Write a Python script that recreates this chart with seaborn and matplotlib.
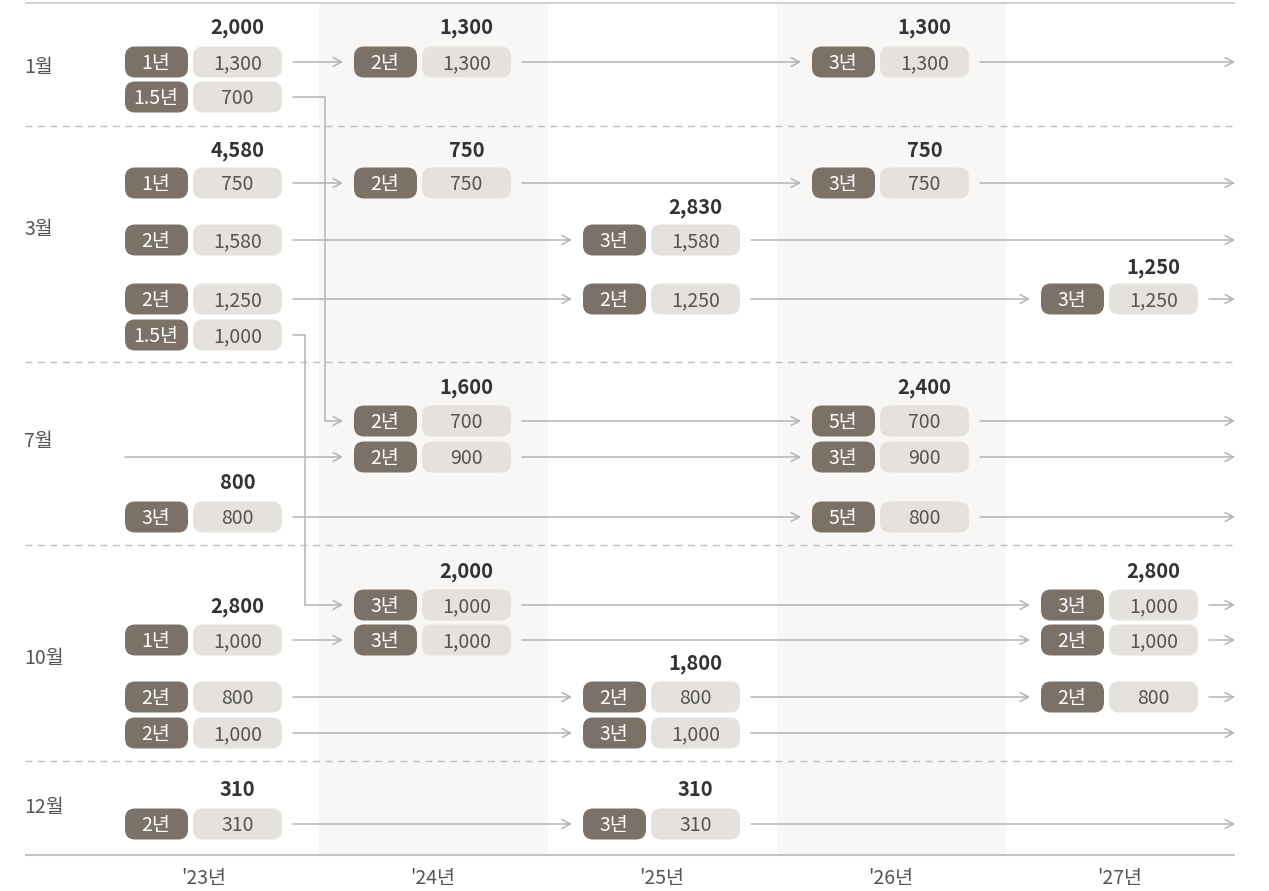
import seaborn as sns
import matplotlib.pyplot as plt
from matplotlib.patches import FancyBboxPatch

sns.set_theme(style="white")
plt.rcParams['font.family'] = ['Noto Sans CJK KR', 'DejaVu Sans']

# ---- data ----
years = ["'23년", "'24년", "'25년", "'26년", "'27년"]
months = ["1월", "3월", "7월", "10월", "12월"]

# each pill: row slot, year column, term, amount
pill_row = [0, 0, 0, 1, 2, 2, 2, 3, 3, 4, 4, 4, 5, 6, 6, 7, 7, 8, 8,
            9, 9, 10, 10, 10, 11, 11, 11, 12, 12, 13, 13]
pill_year = [0, 1, 3, 0, 0, 1, 3, 0, 2, 0, 2, 4, 0, 1, 3, 1, 3, 0, 3,
             1, 4, 0, 1, 4, 0, 2, 4, 0, 2, 0, 2]
pill_term = ["1년", "2년", "3년", "1.5년", "1년", "2년", "3년", "2년", "3년",
             "2년", "2년", "3년", "1.5년", "2년", "5년", "2년", "3년", "3년", "5년",
             "3년", "3년", "1년", "3년", "2년", "2년", "2년", "2년", "2년", "3년",
             "2년", "3년"]
pill_amt = [1300, 1300, 1300, 700, 750, 750, 750, 1580, 1580, 1250, 1250, 1250,
            1000, 700, 700, 900, 900, 800, 800, 1000, 1000, 1000, 1000, 1000,
            800, 800, 800, 1000, 1000, 310, 310]

# group totals shown above the pills
total_year = [0, 1, 3, 0, 1, 3, 2, 4, 1, 3, 0, 1, 4, 0, 2, 0, 2]
total_slot = [0, 0, 0, 1, 1, 1, 2, 3, 4, 4, 5, 6, 6, 7, 8, 9, 9]
total_val = [2000, 1300, 1300, 4580, 750, 750, 2830, 1250, 1600, 2400, 800,
             2000, 2800, 2800, 1800, 310, 310]

# rolled-over rows (1.5년 maturities) that feed a later month
elbow_from = [1, 5]
elbow_to = [6, 9]
lead_rows = [7]  # row that enters without a starting pill

# ---- layout (pixel-like vertical units) ----
W, H = 1269, 891
COL = 229.0
X0 = 204.0
row_y = [62, 97, 183, 240, 299, 335, 421, 457, 517, 605, 640, 697, 733, 824]
total_y = [26, 149, 206, 266, 386, 481, 570, 605, 662, 788]
month_y = [66, 228, 440, 657, 806]
sep_y = [126, 362, 545, 761]
elbow_x = [325, 305]

DARK = '#7b7167'
LIGHT = '#e5e1dc'
BAND = '#f8f7f5'
LINE = '#b4b4b4'
DY = 1.5  # nudge text down to optical centre


def px(n):
    return n / COL


fig = plt.figure(figsize=(W / 100, H / 100), dpi=100)
ax = fig.add_axes([0, 0, 1, 1])
ax.set_xlim(-X0 / COL, (W - X0) / COL)
ax.set_ylim(H, 0)
ax.axis('off')
sns.despine(ax=ax, left=True, bottom=True)

XL, XR = px(25 - X0), px(1235 - X0)

# shaded year bands
for i in (1, 3):
    ax.fill_between([i - 0.5, i + 0.5], 3, 855, color=BAND, lw=0, zorder=0)

ax.hlines([3], XL, XR, color='#c8c8c8', lw=1.2)
ax.hlines([855], XL, XR, color='#c4c4c4', lw=1.5)
ax.hlines(sep_y, XL, XR, color='#bdbdbd', lw=1, linestyles=(0, (5, 4)))

for m, y in zip(months, month_y):
    ax.text(px(24 - X0), y + DY, m, ha='left', va='center', fontsize=14, color='#555555')
for i, yl in enumerate(years):
    ax.text(i, 877 + DY, yl, ha='center', va='center', fontsize=14, color='#555555')


def arrow(x0, x1, y):
    ax.annotate("", xy=(x1, y), xytext=(x0, y),
                arrowprops=dict(arrowstyle="->,head_length=0.6,head_width=0.32",
                                color=LINE, lw=1.1, shrinkA=0, shrinkB=0,
                                mutation_scale=10), zorder=1)


# pills
rs = px(10)
for r, yr, t, a in zip(pill_row, pill_year, pill_term, pill_amt):
    y = row_y[r]
    ax.add_patch(FancyBboxPatch((yr - px(79), y - 15.5), px(63), 31,
                                boxstyle=f"round,pad=0,rounding_size={rs}",
                                mutation_aspect=COL, fc=DARK, ec='none', zorder=2))
    ax.add_patch(FancyBboxPatch((yr - px(11), y - 15.5), px(89), 31,
                                boxstyle=f"round,pad=0,rounding_size={rs}",
                                mutation_aspect=COL, fc=LIGHT, ec='none', zorder=2))
    ax.text(yr - px(48), y + DY, t, ha='center', va='center', fontsize=14,
            color='white', zorder=3)
    ax.text(yr + px(33.5), y + DY, f"{a:,}", ha='center', va='center', fontsize=14,
            color='#555555', zorder=3)

# connectors
END = px(1235 - X0)
for r in range(len(row_y)):
    ys = sorted(yr for rr, yr in zip(pill_row, pill_year) if rr == r)
    y = row_y[r]
    if r in lead_rows:
        arrow(-px(79), ys[0] - px(90), y)
    for a, b in zip(ys[:-1], ys[1:]):
        arrow(a + px(89), b - px(90), y)
    if r not in elbow_from:
        arrow(ys[-1] + px(89), END, y)

for fr, to, ex in zip(elbow_from, elbow_to, elbow_x):
    y0, y1 = row_y[fr], row_y[to]
    xe = px(ex - X0)
    ax.plot([px(89), xe, xe], [y0, y0, y1], color=LINE, lw=1.1, zorder=1)
    arrow(xe, 1 - px(90), y1)

# totals
for yr, s, v in zip(total_year, total_slot, total_val):
    ax.text(yr + px(33.5), total_y[s] + DY, f"{v:,}", ha='center', va='center',
            fontsize=14.5, fontweight='bold', color='#333333', zorder=3)

fig.savefig('out.png', dpi=100)
